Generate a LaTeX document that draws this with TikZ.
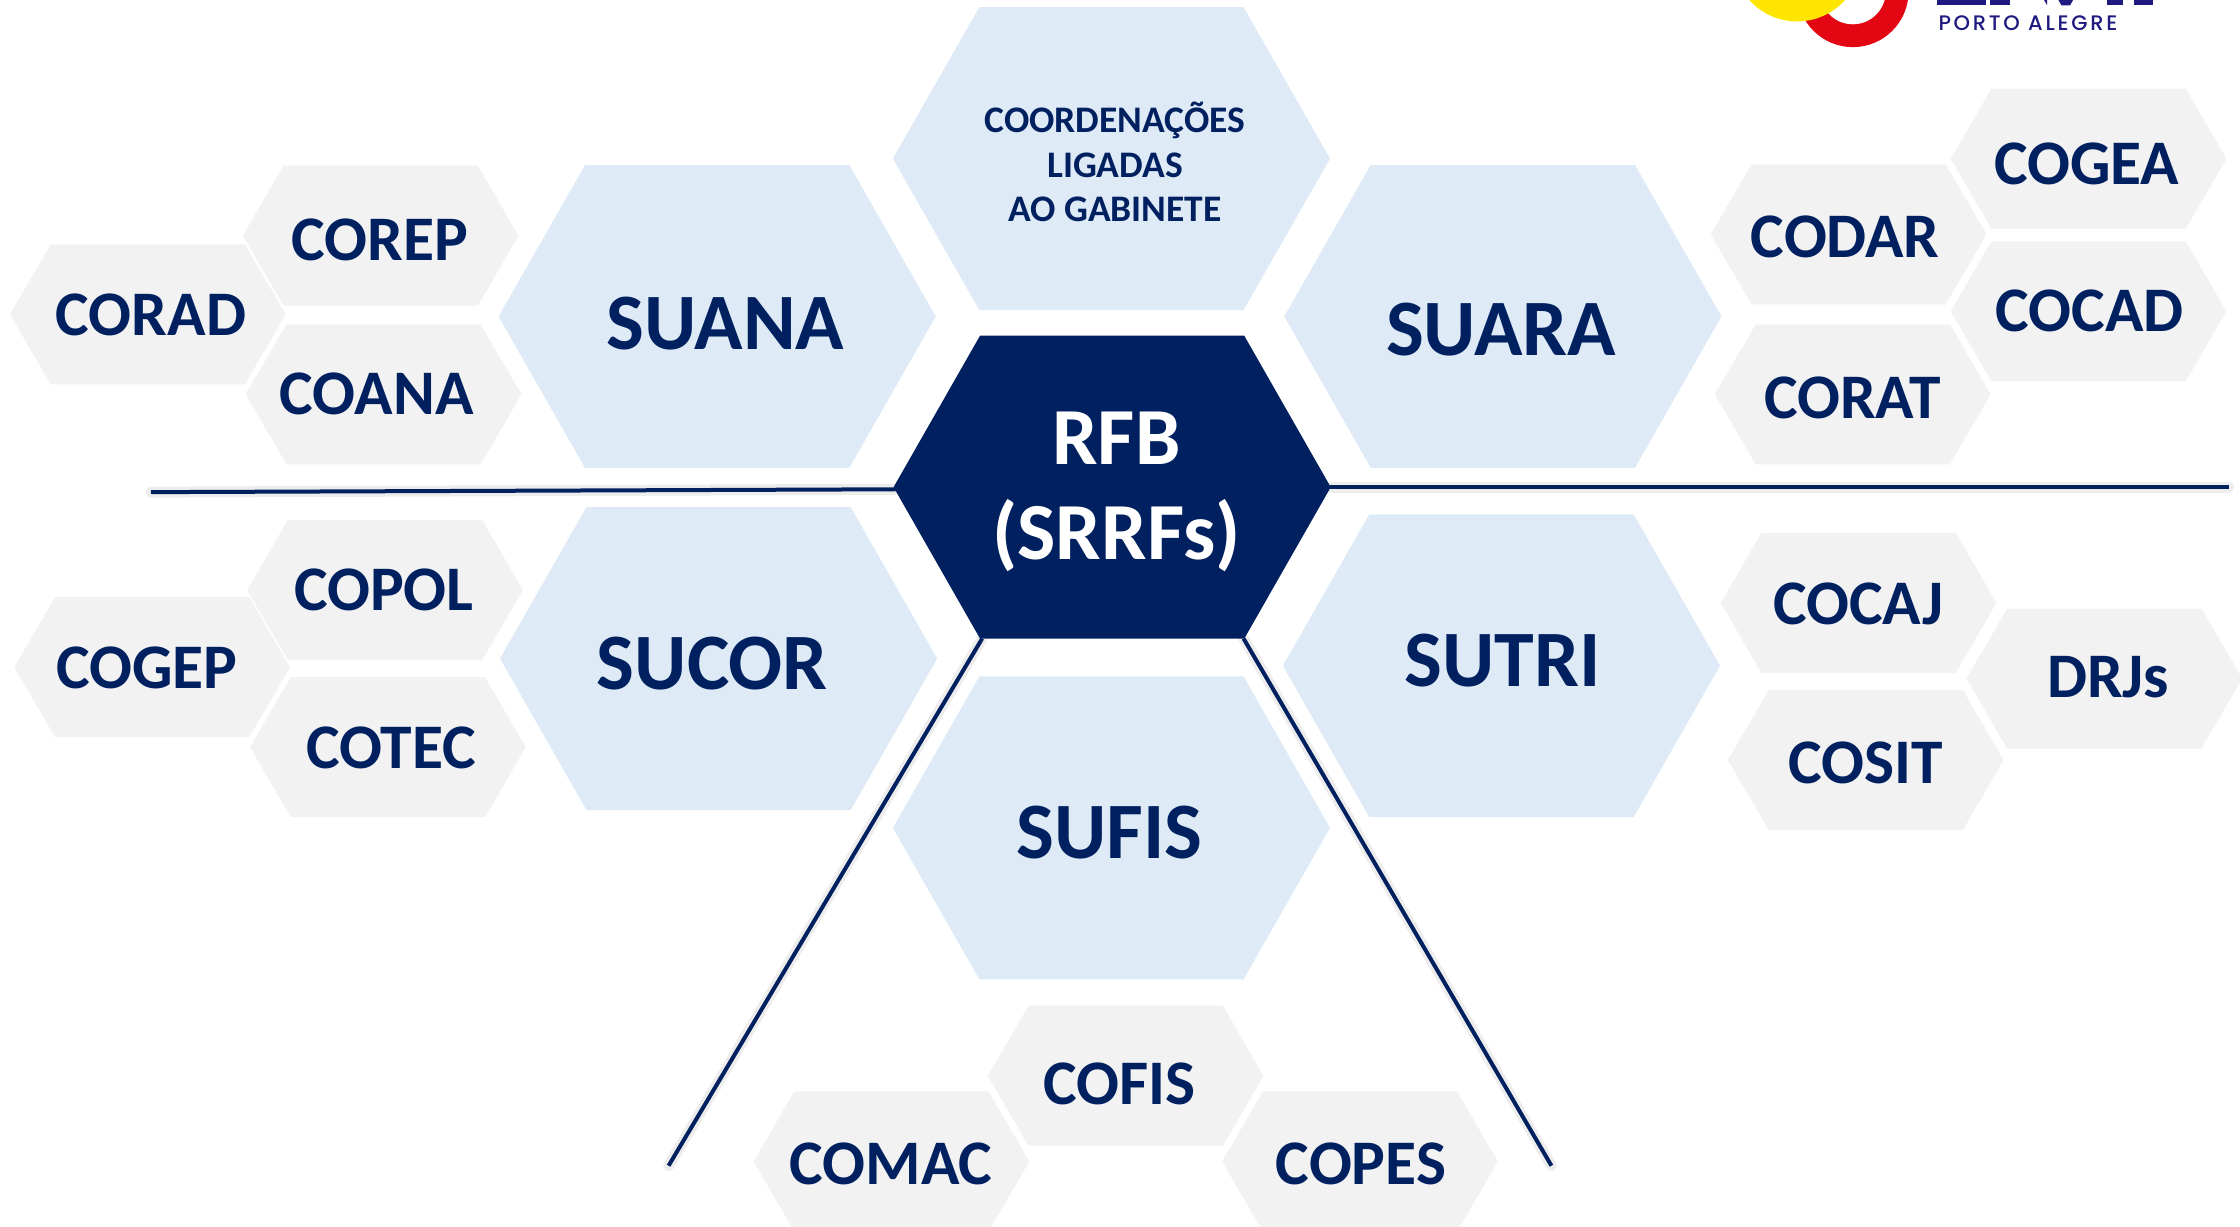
\documentclass[tikz,border=0pt]{standalone}
\usepackage{fontspec}
\setmainfont{Carlito}
\newfontfamily\logofont[LetterSpace=13]{Poppins Medium}
\definecolor{navy}{HTML}{002060}
\definecolor{lightblue}{HTML}{DEEAF6}
\definecolor{palegray}{HTML}{F2F2F2}
\definecolor{logoblue}{HTML}{1F1A80}
\definecolor{logored}{HTML}{E30613}
\definecolor{logoyellow}{HTML}{FFE600}
\tikzset{
  bighex/.style={fill=lightblue},
  smallhex/.style={fill=palegray},
  corehex/.style={fill=navy},
  biglabel/.style={text=navy,font=\bfseries\fontsize{80}{80}\selectfont,inner sep=0pt,xshift=1pt,yshift=-1pt},
  smalllabel/.style={text=navy,font=\bfseries\fontsize{63.5}{63.5}\selectfont,inner sep=0pt,xshift=1pt,yshift=-1pt},
  notelabel/.style={text=navy,font=\bfseries\fontsize{37.5}{44.5}\selectfont,inner sep=0pt,align=center},
  corelabel/.style={text=white,font=\bfseries\fontsize{81}{95}\selectfont,inner sep=0pt,align=center},
  divider/.style={draw=navy,line width=4pt},
  dividershadow/.style={draw=black,opacity=0.07,line width=11pt,line cap=round},
}
% big hexagon: name, centre, style
\newcommand{\hexbig}[3]{%
  \path[#3] (#2)+(-153,0) coordinate (#1L) -- ++(-92.5,-106) -- ++(185,0) -- ++(60.5,106) coordinate (#1R) -- ++(-60.5,106) coordinate (#1BR) -- ++(-185,0) coordinate (#1BL) -- cycle;}
\newcommand{\hexsmall}[1]{%
  \path[smallhex] (#1)+(-96.5,0) -- ++(-68,-49) -- ++(136,0) -- ++(28.5,49) -- ++(-28.5,49) -- ++(-136,0) -- cycle;}
\begin{document}
\begin{tikzpicture}[x=1.42857pt,y=-1.42857pt]
\useasboundingbox (0,0) rectangle (1568,858.2);
\begin{scope}
\clip (0,0) rectangle (1568,858.2);
% logo
\fill[logored] (1297,-6) circle (39);
\fill[white] (1297,-6) circle (23);
\fill[logoyellow] (1258,-30) circle (45);
\node[text=logoblue,font=\logofont\fontsize{21}{21}\selectfont,inner sep=0pt] (portoalegre) at (1419.5,16.5) {PORTO ALEGRE};
\fill[logoblue] (1356,-5) rectangle (1390,3.8);
\fill[logoblue] (1393,-5) rectangle (1407,3.8);
\fill[logoblue] (1428,-5) -- (1433,-5) -- (1433,3.8) -- cycle;
\fill[logoblue] (1438,-5) -- (1454,-5) -- (1449,3.8) -- (1443,3.8) -- cycle;
\fill[logoblue] (1475,-5) rectangle (1486,3.8);
\fill[logoblue] (1494,-5) rectangle (1507,3.8);
% large hexagons
\hexbig{coord}{778,111}{bighex}
\hexbig{suana}{502,221.5}{bighex}
\hexbig{suara}{1052,221.5}{bighex}
\hexbig{sucor}{503,461}{bighex}
\hexbig{sutri}{1051,466}{bighex}
\hexbig{sufis}{778,579.5}{bighex}
% small hexagons
\hexsmall{266.5,165}
\hexsmall{103.5,220}
\hexsmall{268.5,276}
\hexsmall{1462,111}
\hexsmall{1294,164}
\hexsmall{1462,218}
\hexsmall{1297,276}
\hexsmall{269.5,413}
\hexsmall{106.5,467}
\hexsmall{271.5,523}
\hexsmall{1301,422}
\hexsmall{1473,475}
\hexsmall{1306,532}
\hexsmall{788,753}
\hexsmall{624,813}
\hexsmall{952,813}
% coordinates of the dividers
\coordinate (leftend) at (105.7,344.5);
\coordinate (rightend) at (1560,341);
\coordinate (lowleftend) at (468,816);
\coordinate (lowrightend) at (1086,816);
\coordinate (rfbLa) at (627,342.5);
\coordinate (rfbRa) at (931,341);
\coordinate (rfbBLa) at (687.5,447);
\coordinate (rfbBRa) at (870.5,447);
% shadows, dividers, centre
\draw[dividershadow] (leftend) -- (rfbLa);
\draw[dividershadow] (rfbRa) -- (rightend);
\draw[dividershadow] (rfbBLa) -- (lowleftend);
\draw[dividershadow] (rfbBRa) -- (lowrightend);
\draw[divider] (leftend) -- (rfbLa);
\draw[divider] (rfbRa) -- (rightend);
\draw[divider] (rfbBLa) -- (lowleftend);
\draw[divider] (rfbBRa) -- (lowrightend);
\hexbig{rfb}{778.5,341}{corehex}
% labels
\node[notelabel] (coordn) at (780.5,113.5) {COORDENAÇÕES\\LIGADAS\\AO GABINETE};
\node[biglabel] (suanan) at (507,226) {SUANA};
\node[biglabel] (suaran) at (1050,230) {SUARA};
\node[biglabel] (sucorn) at (498,464) {SUCOR};
\node[biglabel] (sutrin) at (1051,462) {SUTRI};
\node[biglabel] (sufisn) at (776,582) {SUFIS};
\node[corelabel] (rfbn) at (781.5,344) {RFB\\(SRRFs)};
\node[smalllabel] (corep) at (265,167) {COREP};
\node[smalllabel] (corad) at (105,220) {CORAD};
\node[smalllabel] (coana) at (263,275) {COANA};
\node[smalllabel] (cogea) at (1460,114) {COGEA};
\node[smalllabel] (codar) at (1291,165) {CODAR};
\node[smalllabel] (cocad) at (1462,217) {COCAD};
\node[smalllabel] (corat) at (1296,278) {CORAT};
\node[smalllabel] (copol) at (268,412) {COPOL};
\node[smalllabel] (cogep) at (102,467) {COGEP};
\node[smalllabel] (cotec) at (273,523) {COTEC};
\node[smalllabel] (cocaj) at (1300,422) {COCAJ};
\node[smalllabel] (drjs) at (1475,473) {DRJs};
\node[smalllabel] (cosit) at (1305,533) {COSIT};
\node[smalllabel] (cofis) at (783,758) {COFIS};
\node[smalllabel] (comac) at (623,814) {COMAC};
\node[smalllabel] (copes) at (952,814) {COPES};
\end{scope}
\end{tikzpicture}
\end{document}
